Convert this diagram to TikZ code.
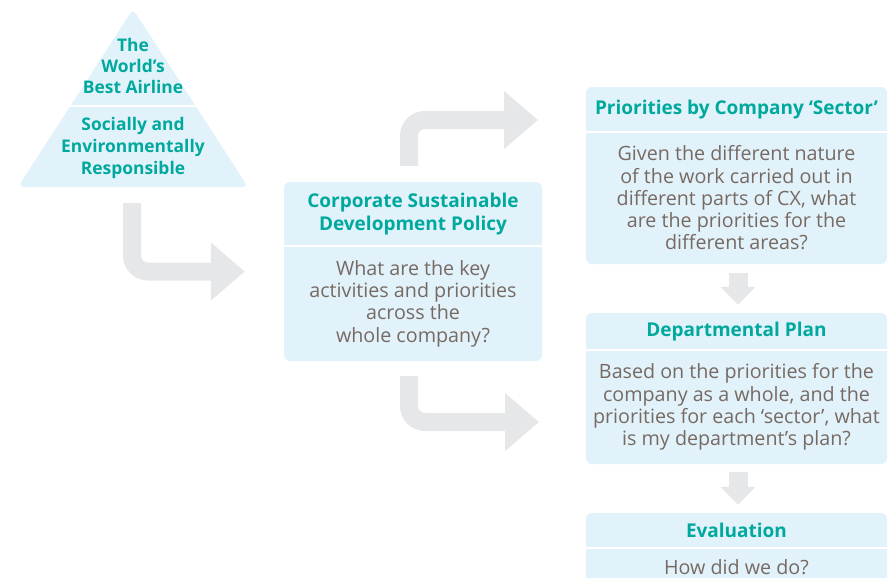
\documentclass[tikz,border=0pt]{standalone}
\usepackage{fontspec}
\setmainfont{Open Sans}
\usetikzlibrary{arrows.meta,positioning}
\definecolor{cardblue}{HTML}{E1F2FB}
\definecolor{cxteal}{HTML}{00A99D}
\definecolor{cxgrey}{HTML}{776A62}
\definecolor{arrowgrey}{HTML}{E6E7E8}

\begin{document}
\begin{tikzpicture}[x=1pt,y=-1pt,
        card/.style={rectangle,rounded corners=6pt,fill=cardblue,inner sep=0pt},
        head/.style={align=center,text=cxteal,font=\bfseries\fontsize{19}{22.5}\selectfont},
        body/.style={align=center,text=cxgrey,font=\fontsize{19.7}{22.3}\selectfont},
        split/.style={draw=white,line width=1.5pt},
        bent arrow/.style={draw=arrowgrey,line width=18pt,rounded corners=16pt,-{Triangle[length=34pt,width=56pt]}},
        down arrow/.style={draw=arrowgrey,line width=19pt,-{Triangle[length=18pt,width=34pt]}}]

        \clip (0,0) rectangle (894,578);

        % pyramid
        \fill[cardblue,rounded corners=5pt] (133,9) -- (248,187) -- (18,187) -- cycle;
        \draw[split] (70.3,106) -- (195.7,106);
        \node[head,font=\bfseries\fontsize{17.4}{21}\selectfont] (best) at (133,66) {The\\World's\\Best Airline};
        \node[head,font=\bfseries\fontsize{17.4}{22}\selectfont] (social) at (133,148) {Socially and\\Environmentally\\Responsible};
        \coordinate (pyr) at (132,187);

        % cards
        \node[card,minimum width=258pt,minimum height=179pt] (corp) at (413,271.5) {};
        \draw[split] (284,246) -- (542,246);
        \node[head] (corpHead) at (413,214) {Corporate Sustainable\\Development Policy};
        \node[body] (corpBody) at (413,303.5) {What are the key\\activities and priorities\\across the\\whole company?};

        \node[card,minimum width=301pt,minimum height=177pt] (sector) at (736.5,175.5) {};
        \draw[split] (586,132) -- (887,132);
        \node[head] (sectorHead) at (736.5,109.5) {Priorities by Company `Sector'};
        \node[body] (sectorBody) at (736.5,198) {Given the different nature\\of the work carried out in\\different parts of CX, what\\are the priorities for the\\different areas?};

        \node[card,minimum width=301pt,minimum height=151pt] (dept) at (736.5,388.5) {};
        \draw[split] (586,350) -- (887,350);
        \node[head] (deptHead) at (736.5,331.5) {Departmental Plan};
        \node[body] (deptBody) at (736.5,407) {Based on the priorities for the\\company as a whole, and the\\priorities for each `sector', what\\is my department's plan?};

        \node[card,minimum width=301pt,minimum height=94pt] (eval) at (736.5,560) {};
        \draw[split] (586,548) -- (887,548);
        \node[head] (evalHead) at (736.5,530.5) {Evaluation};
        \node[body,anchor=base] (evalBody) at (736.5,574) {How did we do?};

        % arrows
        \coordinate (sectorIn) at (586,120);
        \coordinate (deptIn) at (586,422);
        \draw[bent arrow,shorten <=16pt,shorten >=39pt] (pyr) |- (corp.west);
        \draw[bent arrow,shorten <=16pt,shorten >=48pt] ([xshift=-4pt]corp.north) |- (sectorIn);
        \draw[bent arrow,shorten <=15pt,shorten >=47pt] ([xshift=-4pt]corp.south) |- (deptIn);
        \draw[down arrow,shorten <=9pt,shorten >=8pt] ([xshift=1.5pt]sector.south) -- ([xshift=1.5pt]dept.north);
        \draw[down arrow,shorten <=8pt,shorten >=8pt] ([xshift=1.5pt]dept.south) -- ([xshift=1.5pt]eval.north);
      \end{tikzpicture}
\end{document}
